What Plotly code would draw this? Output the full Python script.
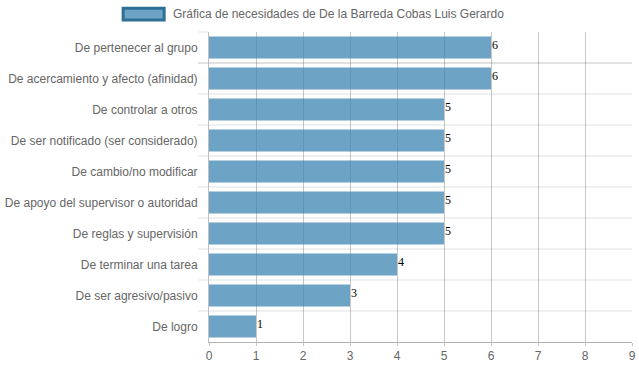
import plotly.graph_objects as go

categories = [
    "De pertenecer al grupo",
    "De acercamiento y afecto (afinidad)",
    "De controlar a otros",
    "De ser notificado (ser considerado)",
    "De cambio/no modificar",
    "De apoyo del supervisor o autoridad",
    "De reglas y supervisión",
    "De terminar una tarea",
    "De ser agresivo/pasivo",
    "De logro",
]
values = [6, 6, 5, 5, 5, 5, 5, 4, 3, 1]
series_name = "Gráfica de necesidades de De la Barreda Cobas Luis Gerardo"
x_ticks = list(range(0, 10))

fig = go.Figure()
fig.add_trace(go.Bar(
    y=categories,
    x=values,
    orientation="h",
    name=series_name,
    marker=dict(color="rgba(58,131,176,0.74)", line=dict(width=0)),
    showlegend=False,
))

for c, v in zip(categories, values):
    fig.add_annotation(x=v, y=c, xref="x", yref="y", text=str(v), showarrow=False,
                       xanchor="left", yanchor="middle", xshift=-1, yshift=3,
                       font=dict(family="Liberation Serif", size=12, color="#000"))

fig.update_layout(
    width=639, height=372,
    margin=dict(l=209, r=7, t=32, b=30, autoexpand=False),
    paper_bgcolor="white", plot_bgcolor="white",
    bargap=0.29,
    font=dict(family="Liberation Sans, Arial, sans-serif", size=12, color="#666"),
    showlegend=False,
    xaxis=dict(
        range=[0, 9], tickvals=x_ticks, showgrid=True, gridcolor="rgba(0,0,0,0.22)",
        gridwidth=1, zeroline=False, showline=True, linecolor="rgba(0,0,0,0.3)",
        ticks="outside", ticklen=3, tickcolor="rgba(0,0,0,0.22)",
        tickfont=dict(size=12, color="#666"), automargin=False,
        ticklabeloverflow="allow",
    ),
    yaxis=dict(
        categoryorder="array", categoryarray=categories, autorange="reversed",
        tickson="boundaries", showgrid=True, gridcolor="rgba(0,0,0,0.06)",
        gridwidth=2,
        ticks="outside", ticklen=10, tickcolor="rgba(0,0,0,0.06)", tickwidth=2,
        ticklabelstandoff=8,
        showline=True, linecolor="rgba(0,0,0,0.25)",
        tickfont=dict(size=12, color="#666"), automargin=False,
    ),
)

# Legend (Chart.js style box) drawn in paper coordinates
fig.add_shape(type="rect", xref="paper", yref="paper",
              x0=-0.203, x1=-0.106, y0=1.039, y1=1.077,
              fillcolor="rgba(58,131,176,0.74)", line=dict(color="#2e6f96", width=3))
fig.add_annotation(xref="paper", yref="paper", x=-0.09, y=1.058,
                   text=series_name, showarrow=False, xanchor="left", yanchor="middle",
                   font=dict(size=12, color="#666"))

fig.write_html("out.html", config={"displayModeBar": False},
               post_script="document.body.style.margin='0px';")
